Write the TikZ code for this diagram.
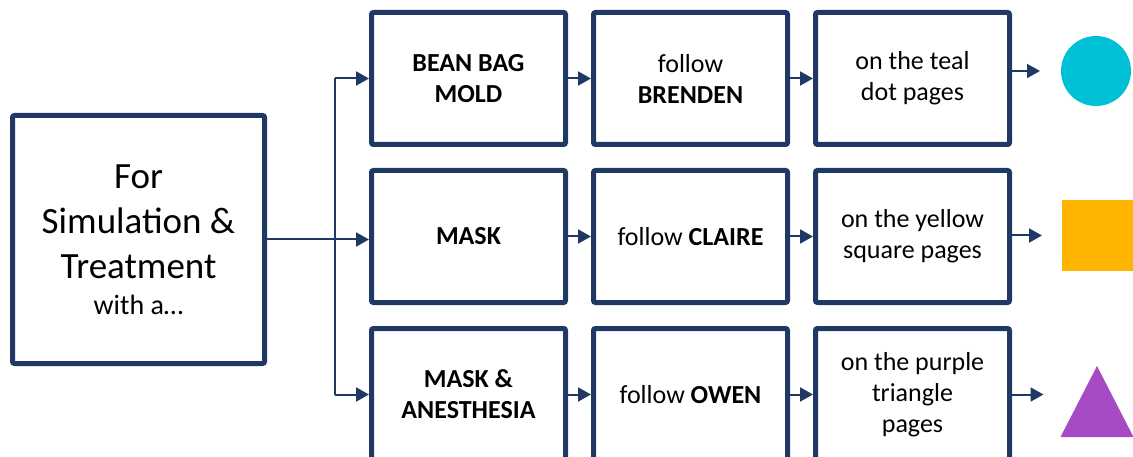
\documentclass[tikz,border=0pt]{standalone}
\usepackage{fontspec}
\setmainfont{Carlito}
\usetikzlibrary{shapes.geometric, arrows.meta, positioning}
\definecolor{navy}{RGB}{31,56,100}
\definecolor{tealdot}{RGB}{0,192,214}
\definecolor{goldsq}{RGB}{255,180,0}
\definecolor{purpletri}{RGB}{166,75,196}

\begin{document}
\begin{tikzpicture}[
  x=1pt, y=-1pt,
  font=\fontsize{26}{31}\selectfont,
  >={Triangle[length=13pt, width=14pt]},
  node distance=21pt and 23pt,
  entrybox/.style={draw=navy, line width=5pt, rounded corners=2pt, align=center, minimum width=252pt, minimum height=248pt, font=\fontsize{37}{45}\selectfont},
  stepbox/.style ={draw=navy, line width=5pt, rounded corners=2pt, align=center, minimum width=194pt, minimum height=132pt, inner sep=2pt},
  link/.style    ={draw=navy, line width=2pt},
  mark shape/.style={inner sep=0pt, outer sep=0pt},
]
\useasboundingbox (0,0) rectangle (1133,457);

% ---------- entry box on the left ----------
\node[entrybox] (entry) at (138.5,239.5) {For\\Simulation \&\\Treatment\\[-9pt]{\fontsize{28}{34}\selectfont with a…}};

% ---------- three rows of steps ----------
\node[stepbox] at (468.5,78.5) (mold) {\textbf{BEAN BAG}\\\textbf{MOLD}};
\node[stepbox, right=of mold]    (brenden)   {follow\\\textbf{BRENDEN}};
\node[stepbox, right=of brenden] (tealpages) {on the teal\\dot pages};

\node[stepbox, below=of mold]   (mask)        {\textbf{MASK}};
\node[stepbox, right=of mask]   (claire)      {follow \textbf{CLAIRE}};
\node[stepbox, right=of claire] (yellowpages) {on the yellow\\square pages};

\node[stepbox, below=of mask]   (anesth)      {\textbf{MASK \&}\\\textbf{ANESTHESIA}};
\node[stepbox, right=of anesth] (owen)        {follow \textbf{OWEN}};
\node[stepbox, right=of owen]   (purplepages) {on the purple\\triangle\\pages};

% ---------- page markers ----------
\node[mark shape, circle, fill=tealdot, minimum size=70pt] (dot) at (1096,71) {};
\node[mark shape, rectangle, fill=goldsq, minimum size=71pt] (square) at (1097.5,235.5) {};
\node[mark shape, isosceles triangle, isosceles triangle stretches, shape border rotate=90,
      fill=purpletri, minimum width=73pt, minimum height=71pt, anchor=apex] (tri) at (1097,366) {};

% ---------- connectors ----------
\coordinate (trunk) at (335,0);
\draw[link,->] (entry.east) -- (entry.east -| mask.west);
\draw[link] (trunk |- mold) -- (trunk |- anesth);
\draw[link,->] (trunk |- mold) -- (mold.west);
\draw[link,->] (trunk |- anesth) -- (anesth.west);

\foreach \a/\b in {mold/brenden, brenden/tealpages, mask/claire, claire/yellowpages, anesth/owen, owen/purplepages}
  \draw[link,->] (\a) -- (\b);

\draw[link,->, shorten >=21pt] (tealpages.east |- dot) -- (dot.west);
\draw[link,->, shorten >=20pt] (yellowpages.east |- square) -- (square.west);
\draw[link,->, shorten >=17pt] (purplepages.east) -- (purplepages.east -| tri.left corner);

\end{tikzpicture}
\end{document}
